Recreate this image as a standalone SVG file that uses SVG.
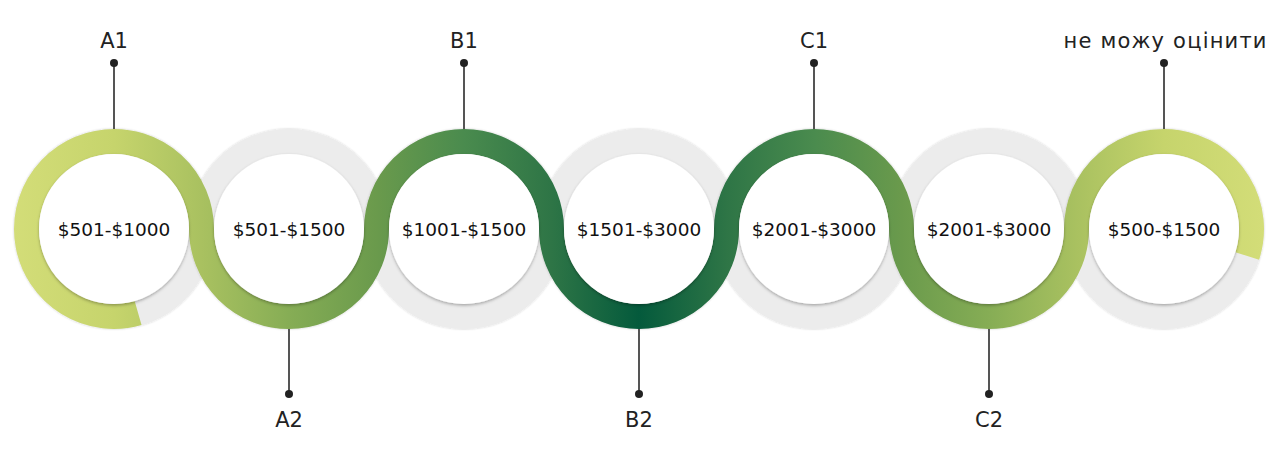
<svg xmlns="http://www.w3.org/2000/svg" width="1280" height="458" viewBox="0 0 1280 458">
  <defs>
    <linearGradient id="snakeGrad" gradientUnits="userSpaceOnUse" x1="14" y1="0" x2="1264" y2="0">
      <stop offset="0" stop-color="#d3dd78"/>
      <stop offset="0.08" stop-color="#c6d46c"/>
      <stop offset="0.15" stop-color="#a9c160"/>
      <stop offset="0.22" stop-color="#86ad55"/>
      <stop offset="0.29" stop-color="#6a9a4c"/>
      <stop offset="0.36" stop-color="#4a8b4e"/>
      <stop offset="0.43" stop-color="#2e7546"/>
      <stop offset="0.5" stop-color="#045a3c"/>
      <stop offset="0.57" stop-color="#2e7546"/>
      <stop offset="0.64" stop-color="#4a8b4e"/>
      <stop offset="0.71" stop-color="#6a9a4c"/>
      <stop offset="0.78" stop-color="#86ad55"/>
      <stop offset="0.85" stop-color="#a9c160"/>
      <stop offset="0.92" stop-color="#c6d46c"/>
      <stop offset="1" stop-color="#d3dd78"/>
    </linearGradient>
    <filter id="ringShadow" x="-10%" y="-10%" width="120%" height="120%">
      <feDropShadow dx="0" dy="0" stdDeviation="1.2" flood-color="#000" flood-opacity="0.22"/>
    </filter>
    <filter id="discShadow" x="-10%" y="-10%" width="120%" height="125%">
      <feDropShadow dx="0" dy="1.5" stdDeviation="1.5" flood-color="#000" flood-opacity="0.3"/>
    </filter>
  </defs>
  <style>
    .ring { fill: #ececec; filter: url(#ringShadow); }
    .disc { fill: #ffffff; filter: url(#discShadow); }
    .val { font-family: "DejaVu Sans", "Liberation Sans", sans-serif; font-size: 18.5px; fill: #111; text-anchor: middle; }
    .lbl { font-family: "DejaVu Sans", "Liberation Sans", sans-serif; font-size: 21px; fill: #222; text-anchor: middle; }
    .lead { stroke: #555; stroke-width: 2; }
    .dot { fill: #222; }
  </style>

  <g id="rings">
    <circle class="ring" cx="114" cy="229" r="100"/>
    <circle class="ring" cx="289" cy="229" r="100"/>
    <circle class="ring" cx="464" cy="229" r="100"/>
    <circle class="ring" cx="639" cy="229" r="100"/>
    <circle class="ring" cx="814" cy="229" r="100"/>
    <circle class="ring" cx="989" cy="229" r="100"/>
    <circle class="ring" cx="1164" cy="229" r="100"/>
  </g>

  <g id="connectors">
    <path id="snake" fill="none" stroke="url(#snakeGrad)" stroke-width="25" stroke-linecap="butt"
      d="M 138.1 313.1 A 87.5 87.5 0 1 1 201.5 229 A 87.5 87.5 0 0 0 376.5 229 A 87.5 87.5 0 0 1 551.5 229 A 87.5 87.5 0 0 0 726.5 229 A 87.5 87.5 0 0 1 901.5 229 A 87.5 87.5 0 0 0 1076.5 229 A 87.5 87.5 0 1 1 1247.2 256"/>
    <line class="lead" x1="114" y1="63" x2="114" y2="129"/>
    <line class="lead" x1="464" y1="63" x2="464" y2="129"/>
    <line class="lead" x1="814" y1="63" x2="814" y2="129"/>
    <line class="lead" x1="1164" y1="63" x2="1164" y2="129"/>
    <line class="lead" x1="289" y1="329" x2="289" y2="394"/>
    <line class="lead" x1="639" y1="329" x2="639" y2="394"/>
    <line class="lead" x1="989" y1="329" x2="989" y2="394"/>
    <circle class="dot" cx="114" cy="63" r="4"/>
    <circle class="dot" cx="464" cy="63" r="4"/>
    <circle class="dot" cx="814" cy="63" r="4"/>
    <circle class="dot" cx="1164" cy="63" r="4"/>
    <circle class="dot" cx="289" cy="394" r="4"/>
    <circle class="dot" cx="639" cy="394" r="4"/>
    <circle class="dot" cx="989" cy="394" r="4"/>
  </g>

  <g id="node-1">
    <circle class="disc" cx="114" cy="229" r="75"/>
    <text class="val" x="114" y="236">$501-$1000</text>
    <text class="lbl" x="114" y="48">A1</text>
  </g>
  <g id="node-2">
    <circle class="disc" cx="289" cy="229" r="75"/>
    <text class="val" x="289" y="236">$501-$1500</text>
    <text class="lbl" x="289" y="427">A2</text>
  </g>
  <g id="node-3">
    <circle class="disc" cx="464" cy="229" r="75"/>
    <text class="val" x="464" y="236">$1001-$1500</text>
    <text class="lbl" x="464" y="48">B1</text>
  </g>
  <g id="node-4">
    <circle class="disc" cx="639" cy="229" r="75"/>
    <text class="val" x="639" y="236">$1501-$3000</text>
    <text class="lbl" x="639" y="427">B2</text>
  </g>
  <g id="node-5">
    <circle class="disc" cx="814" cy="229" r="75"/>
    <text class="val" x="814" y="236">$2001-$3000</text>
    <text class="lbl" x="814" y="48">C1</text>
  </g>
  <g id="node-6">
    <circle class="disc" cx="989" cy="229" r="75"/>
    <text class="val" x="989" y="236">$2001-$3000</text>
    <text class="lbl" x="989" y="427">C2</text>
  </g>
  <g id="node-7">
    <circle class="disc" cx="1164" cy="229" r="75"/>
    <text class="val" x="1164" y="236">$500-$1500</text>
    <text class="lbl" x="1165" y="48" textLength="203" lengthAdjust="spacing">не можу оцінити</text>
  </g>
</svg>
